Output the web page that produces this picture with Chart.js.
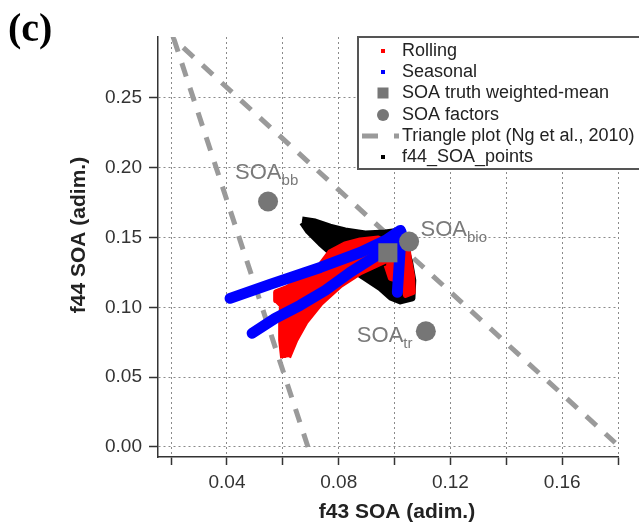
<!DOCTYPE html>
<html>
<head>
<meta charset="utf-8">
<script src="https://cdn.jsdelivr.net/npm/chart.js@4.4.0/dist/chart.umd.min.js"></script>
<style>
  html, body { margin: 0; padding: 0; background: #fff; }
  #wrap { position: relative; width: 639px; height: 524px; }
</style>
</head>
<body>
<div id="wrap"><canvas id="chart"></canvas></div>
<script>
// values, [f43, f44]
const blackOutline = [
  [0.0669, 0.1628], [0.0716, 0.1614], [0.0769, 0.1578], [0.0823, 0.1550],
  [0.0895, 0.1528], [0.0967, 0.1536], [0.1021, 0.1550], [0.1039, 0.1443],
  [0.1056, 0.1321], [0.1067, 0.1193], [0.1064, 0.1064], [0.1021, 0.1042],
  [0.0985, 0.1071], [0.0949, 0.1136], [0.0895, 0.1207], [0.0841, 0.1278],
  [0.0787, 0.1364], [0.0734, 0.1457], [0.0691, 0.1543], [0.0669, 0.1607]
];
const rollingFan = [
  [0.0601, 0.0636], [0.0594, 0.0764], [0.0594, 0.0893], [0.0597, 0.1014],
  [0.0579, 0.1050], [0.0576, 0.1107], [0.0619, 0.1142], [0.0662, 0.1193],
  [0.0716, 0.1250], [0.0769, 0.1392], [0.0823, 0.1450], [0.0877, 0.1478],
  [0.0942, 0.1492], [0.0985, 0.1443], [0.0985, 0.1350], [0.0931, 0.1300],
  [0.0877, 0.1250], [0.0805, 0.1157], [0.0734, 0.1028], [0.0680, 0.0893],
  [0.0644, 0.0764], [0.0619, 0.0643]
];
const rollingStrip = [
  [0.1028, 0.1492], [0.1046, 0.1457], [0.1053, 0.1350], [0.1064, 0.1228],
  [0.1067, 0.1107], [0.1039, 0.1085], [0.1031, 0.1207], [0.1024, 0.1350],
  [0.1017, 0.1443]
];
const rollingPatch = [
  [0.0970, 0.1371], [0.1006, 0.1371], [0.1010, 0.1193], [0.0985, 0.1207], [0.0970, 0.1300]
];
const seasonalUpper = [
  [0.0411, 0.1064], [0.0554, 0.1164], [0.0734, 0.1285], [0.0877, 0.1392],
  [0.0967, 0.1478], [0.1021, 0.1550]
];
const seasonalLower = [
  [0.0490, 0.0814], [0.0572, 0.0921], [0.0662, 0.1014], [0.0752, 0.1121],
  [0.0841, 0.1250], [0.0931, 0.1364], [0.1003, 0.1457]
];
const seasonalRight = [[0.1024, 0.1535], [0.1010, 0.1107]];
const truthMean = [[0.0976, 0.1390]];
const soaFactors = [[0.0547, 0.1757], [0.1052, 0.1470], [0.1112, 0.0828]];
const factorNames = [['SOA', 'bb'], ['SOA', 'bio'], ['SOA', 'tr']];
const factorLabelAt = [[0.0429, 0.1920], [0.1093, 0.1507], [0.0865, 0.0750]];
const triangleNg = [[0.0690, 0.0000], [0.0210, 0.2920], [0.1790, 0.0030]];
const legendLabels = ['Rolling', 'Seasonal', 'SOA truth weighted-mean', 'SOA factors',
  'Triangle plot (Ng et al., 2010)', 'f44_SOA_points'];

const pts = arr => arr.map(([x, y]) => ({x, y}));
const GREY = '#767676';
const SANS = '"Liberation Sans", Arial, sans-serif';

function shape(data, color, width) {
  return { data: pts(data), showLine: true, fill: 'shape', backgroundColor: color,
    borderColor: color, borderWidth: width, borderJoinStyle: 'round', pointRadius: 0 };
}
function stroke(data, color) {
  return { data: pts(data), showLine: true, fill: false, borderColor: color,
    borderWidth: 11, borderCapStyle: 'round', borderJoinStyle: 'round', pointRadius: 0 };
}

const overlay = {
  id: 'overlay',
  afterDraw(chart) {
    const ctx = chart.ctx;
    const xs = chart.scales.x, ys = chart.scales.y;
    ctx.save();

    ctx.fillStyle = '#000';
    ctx.font = 'bold 40px "Liberation Serif", "DejaVu Serif", serif';
    ctx.textBaseline = 'alphabetic';
    ctx.fillText('(c)', 8, 41);

    // axis titles
    ctx.fillStyle = '#222';
    ctx.font = 'bold 21px ' + SANS;
    ctx.textAlign = 'center';
    ctx.textBaseline = 'middle';
    ctx.fillText('f43 SOA (adim.)', 397, 512);
    ctx.save();
    ctx.translate(79, 235);
    ctx.rotate(-Math.PI / 2);
    ctx.fillText('f44 SOA (adim.)', 0, 0);
    ctx.restore();

    // factor names
    ctx.textAlign = 'left';
    ctx.textBaseline = 'alphabetic';
    ctx.fillStyle = '#7a7a7a';
    factorNames.forEach(([main, sub], i) => {
      const px = xs.getPixelForValue(factorLabelAt[i][0]);
      const py = ys.getPixelForValue(factorLabelAt[i][1]);
      ctx.font = '22px ' + SANS;
      ctx.fillText(main, px, py);
      const w = ctx.measureText(main).width;
      ctx.font = '15px ' + SANS;
      ctx.fillText(sub, px + w, py + 6);
    });

    // legend box
    const bx = 358, by = 37, bh = 132;
    ctx.fillStyle = '#fff';
    ctx.fillRect(bx, by, 300, bh);
    ctx.strokeStyle = '#555';
    ctx.lineWidth = 2;
    ctx.strokeRect(bx, by, 300, bh);
    const mx = 383, tx = 402;
    const rows = [51, 72, 93, 115, 136, 157];
    ctx.font = '18px ' + SANS;
    ctx.textBaseline = 'middle';
    legendLabels.forEach((label, i) => {
      const y = rows[i];
      if (i === 0 || i === 1 || i === 5) {
        ctx.fillStyle = ['#ff0000', '#0000ff', null, null, null, '#000'][i];
        ctx.fillRect(mx - 2, y - 2, 4, 4);
      } else if (i === 2) {
        ctx.fillStyle = GREY;
        ctx.fillRect(mx - 5.5, y - 5.5, 11, 11);
      } else if (i === 3) {
        ctx.fillStyle = GREY;
        ctx.beginPath();
        ctx.arc(mx, y, 6, 0, Math.PI * 2);
        ctx.fill();
      } else {
        ctx.strokeStyle = '#9a9a9a';
        ctx.lineWidth = 5;
        ctx.setLineDash([16, 16]);
        ctx.beginPath();
        ctx.moveTo(362, y);
        ctx.lineTo(399, y);
        ctx.stroke();
        ctx.setLineDash([]);
      }
      ctx.fillStyle = '#222';
      ctx.fillText(label, tx, y);
    });
    ctx.restore();
  }
};

new Chart(document.getElementById('chart'), {
  type: 'line',
  data: {
    datasets: [
      { data: pts(soaFactors), showLine: false, pointStyle: 'circle', pointRadius: 10,
        pointBackgroundColor: GREY, pointBorderWidth: 0 },
      { data: pts(truthMean), showLine: false, pointStyle: 'rect', pointRadius: 13.5,
        pointBackgroundColor: GREY, pointBorderWidth: 0 },
      stroke(seasonalUpper, '#0000ff'),
      stroke(seasonalLower, '#0000ff'),
      stroke(seasonalRight, '#0000ff'),
      shape(rollingPatch, '#ff0000', 5),
      shape(rollingStrip, '#ff0000', 5),
      shape(rollingFan, '#ff0000', 6),
      shape(blackOutline, '#000000', 6),
      { data: pts(triangleNg), showLine: true, fill: false, borderColor: '#9a9a9a',
        borderWidth: 5, borderDash: [14, 12], pointRadius: 0 }
    ]
  },
  options: {
    responsive: true,
    maintainAspectRatio: false,
    animation: false,
    layout: { padding: { top: 37, right: 21, left: 0, bottom: 0 } },
    plugins: { legend: { display: false }, tooltip: { enabled: false } },
    scales: {
      x: {
        type: 'linear', min: 0.0153, max: 0.18,
        afterFit(scale) { scale.height = 67; },
        ticks: {
          stepSize: 0.02, includeBounds: false, padding: 6,
          color: '#333', font: { family: SANS, size: 19 },
          callback: v => (Math.round(v * 100) % 4 === 0 ? v.toFixed(2) : '')
        },
        grid: { color: '#8a8a8a', lineWidth: 1, tickLength: 8, tickColor: '#333',
          tickWidth: 1.5, tickBorderDash: [] },
        border: { color: '#333', width: 1.5, dash: [2, 3] }
      },
      y: {
        type: 'linear', min: -0.0072, max: 0.2935,
        afterFit(scale) { scale.width = 158; },
        ticks: {
          stepSize: 0.05, includeBounds: false, padding: 7,
          color: '#333', font: { family: SANS, size: 19 },
          callback: v => v.toFixed(2)
        },
        grid: { color: '#8a8a8a', lineWidth: 1, tickLength: 9, tickColor: '#333',
          tickWidth: 1.5, tickBorderDash: [] },
        border: { color: '#333', width: 1.5, dash: [2, 3] }
      }
    }
  },
  plugins: [overlay]
});
</script>
</body>
</html>
